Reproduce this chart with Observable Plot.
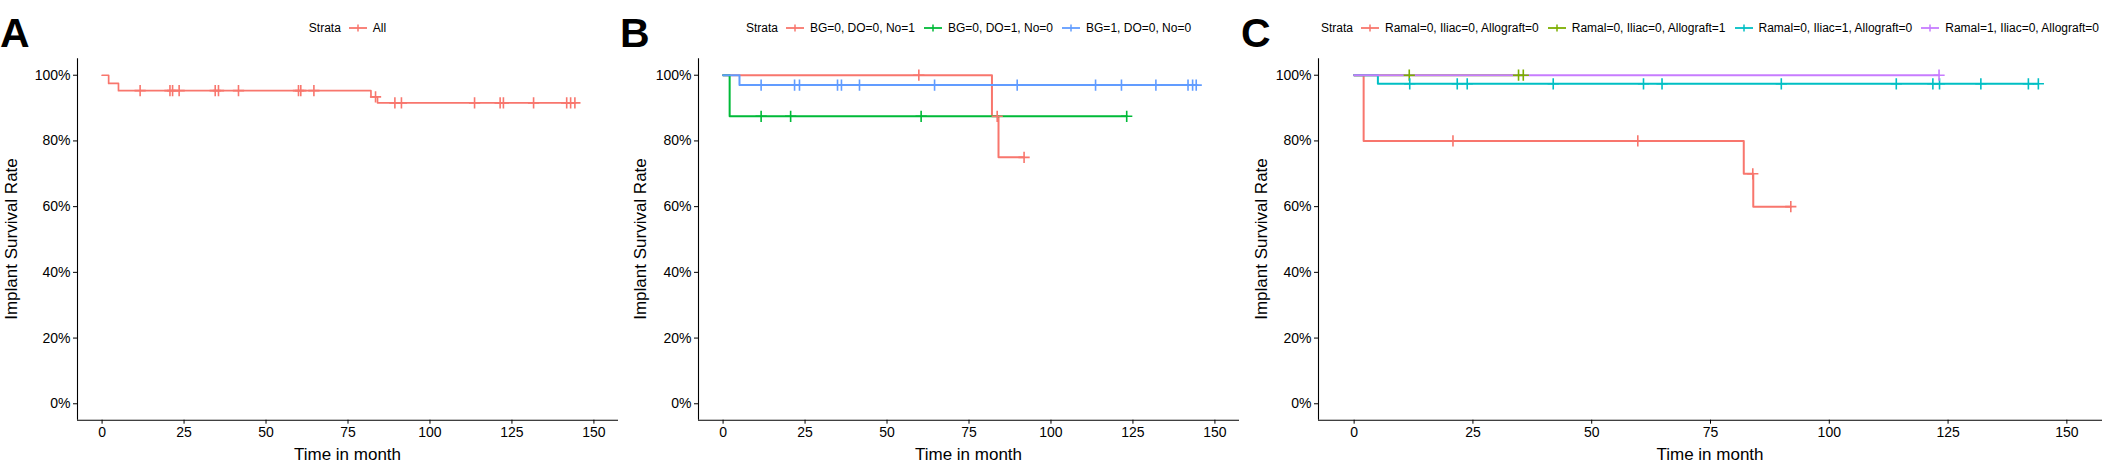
<!DOCTYPE html>
<html>
<head>
<meta charset="utf-8">
<script src="https://cdn.jsdelivr.net/npm/d3@7"></script>
<script src="https://cdn.jsdelivr.net/npm/@observablehq/plot@0.6"></script>
<style>
  body { margin: 0; background: #fff; }
  #fig { position: relative; width: 2110px; height: 471px; overflow: hidden; background: #fff;
         font-family: "Liberation Sans", Arial, sans-serif; color: #000; }
  .abs { position: absolute; }
  .letter { font-weight: bold; font-size: 41px; line-height: 41px; }
  .legend { display: flex; justify-content: center; align-items: center; font-size: 12px;
            line-height: 12px; height: 12px; white-space: nowrap; }
  .legend .ttl { margin-right: 8px; }
  .legend svg { margin-right: 6px; display: block; }
  .legend .lab { margin-right: 9px; }
  .legend .lab:last-child { margin-right: 0; }
  .xtitle { font-size: 17px; line-height: 17px; text-align: center; }
  .ytitle { font-size: 17px; line-height: 17px; white-space: nowrap; transform: translate(-50%, -50%) rotate(-90deg); }
</style>
</head>
<body>
<div id="fig"></div>
<script>
// ---------- shared axis ticks ----------
const xTicks = [0, 25, 50, 75, 100, 125, 150];
const yTicks = [0, 0.2, 0.4, 0.6, 0.8, 1];
const xLabel = "Time in month";
const yLabel = "Implant Survival Rate";
const legendTitle = "Strata";

// ---------- Panel A ----------
const aStrata = ["All"];
const aEventTimes = [[0, 2, 5, 82, 84]];
const aSurvival = [[1, 0.975, 0.953, 0.934, 0.916]];
const aCensorTimes = [[11.6, 20.7, 21.5, 23.5, 34.5, 35.5, 41.6, 59.9, 60.6, 64.6,
                       83.4, 89.3, 91.3, 113.6, 121.4, 122.4, 131.6, 141.7, 142.9, 144.2]];

// ---------- Panel B ----------
const bStrata = ["BG=0, DO=0, No=1", "BG=0, DO=1, No=0", "BG=1, DO=0, No=0"];
const bEventTimes = [[0, 82, 84], [0, 2], [0, 5]];
const bSurvival = [[1, 0.875, 0.75], [1, 0.875], [1, 0.97]];
const bCensorTimes = [
  [59.7, 83.6, 91.8],
  [11.6, 20.6, 60.4, 123.1],
  [11.6, 21.8, 23.3, 34.9, 36.1, 41.6, 64.5, 89.7, 113.6, 121.5, 132, 141.8, 143.2, 144.3]
];

// ---------- Panel C ----------
const cStrata = ["Ramal=0, Iliac=0, Allograft=0", "Ramal=0, Iliac=0, Allograft=1",
                 "Ramal=0, Iliac=1, Allograft=0", "Ramal=1, Iliac=0, Allograft=0"];
const cEventTimes = [[0, 2, 82, 84], [0], [0, 5], [0]];
const cSurvival = [[1, 0.8, 0.7, 0.6], [1], [1, 0.974], [1]];
const cCensorTimes = [
  [20.8, 59.7, 83.9, 91.9],
  [11.6, 34.6, 35.6],
  [11.7, 21.7, 23.8, 41.9, 60.9, 64.8, 89.9, 114.1, 121.8, 123.2, 131.9, 141.9, 144],
  [123.1]
];

// ---------- styles ----------
const pal1 = ["#F8766D"];
const pal3 = ["#F8766D", "#00BA38", "#619CFF"];
const pal4 = ["#F8766D", "#7CAE00", "#00BFC4", "#C77CFF"];
const FONT = '"Liberation Sans", Arial, sans-serif';
const xDomain = [-7.5, 157.5];
const yDomain = [-0.05, 1.05];

function build(strata, eventTimes, survival, censorTimes) {
  const lines = [], censors = [];
  strata.forEach((name, i) => {
    const ev = eventTimes[i], sv = survival[i], cs = censorTimes[i];
    ev.forEach((t, j) => lines.push({strata: name, t, s: sv[j]}));
    const end = Math.max(...ev, ...cs);
    lines.push({strata: name, t: end, s: sv[sv.length - 1]});
    cs.forEach(c => {
      let s = sv[0];
      ev.forEach((t, j) => { if (t <= c) s = sv[j]; });
      censors.push({strata: name, t: c, s});
    });
  });
  return {lines, censors};
}

const fig = document.getElementById("fig");

function addPanel(cfg) {
  const {letter, letterX, left, width, marginLeft, marginRight, strata, colors, data, yTitleX, lineWidth} = cfg;
  const height = 431, top = 40, marginTop = 18.3, marginBottom = 51.3;
  const chart = Plot.plot({
    width, height, marginLeft, marginRight, marginTop, marginBottom,
    x: {domain: xDomain},
    y: {domain: yDomain},
    color: {domain: strata, range: colors},
    style: {fontFamily: FONT, fontSize: "14px", color: "#000", background: "transparent", overflow: "visible"},
    marks: [
      Plot.ruleX([xDomain[0]], {stroke: "#000", strokeWidth: 1.1}),
      Plot.ruleY([yDomain[0]], {stroke: "#000", strokeWidth: 1.1}),
      Plot.axisX({ticks: xTicks, tickSize: 4, tickPadding: 3, fontSize: 14, label: null}),
      Plot.axisY({ticks: yTicks, tickFormat: d3.format(".0%"), tickSize: 4, tickPadding: 3, fontSize: 14, label: null}),
      Plot.line(data.lines, {x: "t", y: "s", stroke: "strata", z: "strata", curve: "step-after", strokeWidth: lineWidth}),
      Plot.dot(data.censors, {x: "t", y: "s", stroke: "strata", symbol: "plus", r: 3.7, strokeWidth: 1.6})
    ]
  });
  const holder = document.createElement("div");
  holder.className = "abs";
  holder.style.left = left + "px";
  holder.style.top = top + "px";
  holder.style.width = width + "px";
  holder.appendChild(chart);
  fig.appendChild(holder);

  const plotLeft = left + marginLeft, plotW = width - marginLeft - marginRight;

  const L = document.createElement("div");
  L.className = "abs letter";
  L.style.left = letterX + "px";
  L.style.top = "13px";
  L.textContent = letter;
  fig.appendChild(L);

  const lg = document.createElement("div");
  lg.className = "abs legend";
  lg.style.left = plotLeft + "px";
  lg.style.width = plotW + "px";
  lg.style.top = "22px";
  const t = document.createElement("span");
  t.className = "ttl"; t.textContent = legendTitle;
  lg.appendChild(t);
  strata.forEach((name, i) => {
    const c = colors[i];
    const key = document.createElementNS("http://www.w3.org/2000/svg", "svg");
    key.setAttribute("width", 18); key.setAttribute("height", 12);
    key.innerHTML = `<line x1="0" x2="18" y1="6" y2="6" stroke="${c}" stroke-width="1.8"/>` +
                    `<line x1="9" x2="9" y1="2.5" y2="9.5" stroke="${c}" stroke-width="1.5"/>`;
    lg.appendChild(key);
    const s = document.createElement("span");
    s.className = "lab"; s.textContent = name;
    lg.appendChild(s);
  });
  fig.appendChild(lg);

  const xt = document.createElement("div");
  xt.className = "abs xtitle";
  xt.style.left = plotLeft + "px";
  xt.style.width = plotW + "px";
  xt.style.top = "445.6px";
  xt.textContent = xLabel;
  fig.appendChild(xt);

  const yt = document.createElement("div");
  yt.className = "abs ytitle";
  yt.style.left = yTitleX + "px";
  yt.style.top = "239px";
  yt.textContent = yLabel;
  fig.appendChild(yt);
}

addPanel({letter: "A", letterX: 0, left: 0, width: 620, marginLeft: 77, marginRight: 2,
          strata: aStrata, colors: pal1, data: build(aStrata, aEventTimes, aSurvival, aCensorTimes),
          yTitleX: 10.5, lineWidth: 1.7});
addPanel({letter: "B", letterX: 620, left: 620, width: 625, marginLeft: 78, marginRight: 6,
          strata: bStrata, colors: pal3, data: build(bStrata, bEventTimes, bSurvival, bCensorTimes),
          yTitleX: 640, lineWidth: 2});
addPanel({letter: "C", letterX: 1241, left: 1245, width: 865, marginLeft: 73, marginRight: 8,
          strata: cStrata, colors: pal4, data: build(cStrata, cEventTimes, cSurvival, cCensorTimes),
          yTitleX: 1261, lineWidth: 2});
</script>
</body>
</html>
